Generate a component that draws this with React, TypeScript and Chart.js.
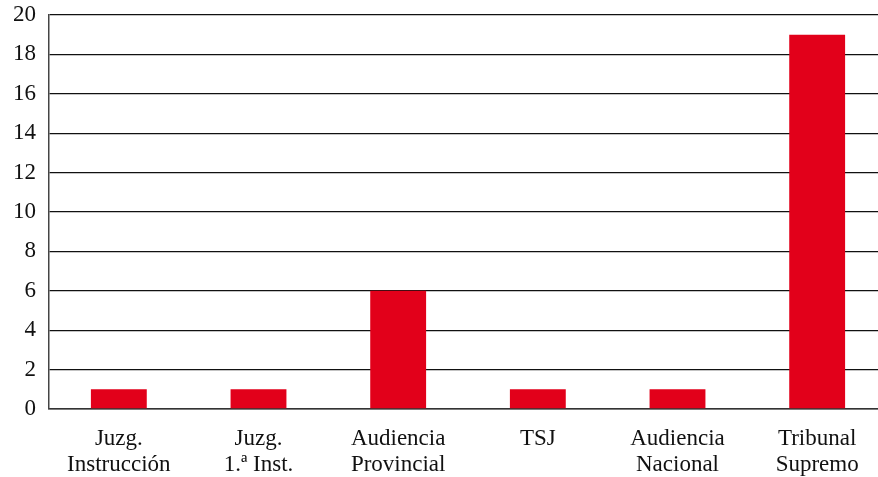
import React, { useEffect, useRef } from "react";
import { Chart, registerables } from "chart.js";

Chart.register(...registerables);

const categories: string[][] = [
  ["Juzg.", "Instrucción"],
  ["Juzg.", "1.ª Inst."],
  ["Audiencia", "Provincial"],
  ["TSJ"],
  ["Audiencia", "Nacional"],
  ["Tribunal", "Supremo"],
];
const values: number[] = [1, 1, 6, 1, 1, 19];
const yMin = 0;
const yMax = 20;
const yStep = 2;

export default function App() {
  const ref = useRef<HTMLCanvasElement | null>(null);
  useEffect(() => {
    document.body.style.margin = "0";
    document.body.style.overflow = "hidden";
    const font = { family: "'Liberation Serif', 'DejaVu Serif', serif", size: 23, lineHeight: 1.13 };
    const chart = new Chart(ref.current as HTMLCanvasElement, {
      type: "bar",
      data: {
        labels: categories,
        datasets: [
          {
            data: values,
            backgroundColor: "#e2001a",
            barPercentage: 0.4,
            categoryPercentage: 1,
          },
        ],
      },
      options: {
        animation: false,
        responsive: false,
        maintainAspectRatio: false,
        layout: { padding: { top: 4, right: 3, left: 0, bottom: 0 } },
        plugins: { legend: { display: false }, tooltip: { enabled: false } },
        scales: {
          x: {
            grid: { display: false, drawTicks: false },
            border: { color: "#333", width: 1.5 },
            ticks: { color: "#111", font, padding: 17, maxRotation: 0, autoSkip: false },
          },
          y: {
            min: yMin,
            max: yMax,
            grid: { color: "#111", lineWidth: 1.3, drawTicks: false },
            border: { color: "#444", width: 1.5 },
            ticks: { stepSize: yStep, color: "#111", font, padding: 13 },
          },
        },
      },
    });
    return () => chart.destroy();
  }, []);
  return (
    <div style={{ position: "fixed", left: 0, top: 0, width: 878, height: 477, overflow: "hidden", background: "#fff" }}>
      <canvas ref={ref} width={890} height={506} style={{ width: 890, height: 506, display: "block", marginTop: -11 }} />
    </div>
  );
}
